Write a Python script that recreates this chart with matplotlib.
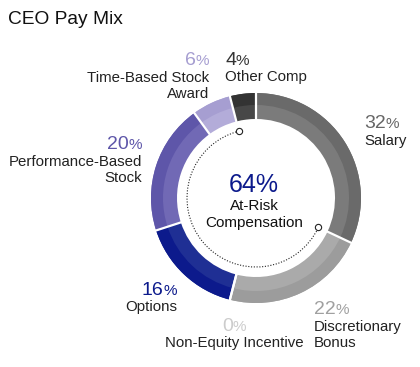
import numpy as np
import matplotlib.pyplot as plt
from matplotlib.patches import Arc

plt.rcParams['font.family'] = ['Liberation Sans', 'DejaVu Sans']

# data, clockwise from 12 o'clock
labels = ['Salary', 'Discretionary\nBonus', 'Non-Equity Incentive', 'Options',
          'Performance-Based\nStock', 'Time-Based Stock\nAward', 'Other Comp']
values = [32, 22, 0, 16, 20, 6, 4]
outer_colors = ['#6a6a6a', '#9c9c9c', '#cccccc', '#0c1a8c', '#5e56a9', '#a69ed1', '#333333']
inner_colors = ['#7b7b7b', '#aaaaaa', '#d6d6d6', '#1f2f94', '#7169b5', '#b3acd9', '#474747']
pct_colors = ['#666666', '#a0a0a0', '#cccccc', '#0c1a8c', '#5e56a9', '#a69ed1', '#333333']
at_risk = ['Discretionary\nBonus', 'Non-Equity Incentive', 'Options',
           'Performance-Based\nStock', 'Time-Based Stock\nAward']
at_risk_total = sum(v for l, v in zip(labels, values) if l in at_risk)

W, H = 420, 367
fig = plt.figure(figsize=(W / 100, H / 100), dpi=100)
ax = fig.add_axes([0, 0, 1, 1])

cx, cy = 256, H - 198
R, split, r_in = 105, 93, 79

# full ring in the lighter tone, outer band in the darker tone on top
ax.pie(values, radius=R, center=(cx, cy), startangle=90, counterclock=False,
       colors=inner_colors, frame=True,
       wedgeprops=dict(width=R - r_in, edgecolor='none', antialiased=True))
ax.pie(values, radius=R, center=(cx, cy), startangle=90, counterclock=False,
       colors=outer_colors, frame=True,
       wedgeprops=dict(width=R - split, edgecolor='none'))

# white gaps between segments
bounds = np.cumsum([0] + values[:-1])
for b in bounds:
    a = np.radians(90 - b * 3.6)
    ax.plot([cx + (r_in - 2) * np.cos(a), cx + (R + 2) * np.cos(a)],
            [cy + (r_in - 2) * np.sin(a), cy + (R + 2) * np.sin(a)],
            color='white', lw=1.6, solid_capstyle='butt')

ax.set_xlim(0, W)
ax.set_ylim(0, H)
ax.set_aspect('equal')
ax.axis('off')

# dotted arc for at-risk compensation
start_pct = values[0]
end_pct = start_pct + at_risk_total
a1 = 90 - end_pct * 3.6
a2 = 90 - start_pct * 3.6
rr = 69
ax.add_patch(Arc((cx, cy), 2 * rr, 2 * rr, theta1=a1, theta2=a2,
                 color='#222222', lw=0.8, ls=(0, (1, 1.5))))
for a in (a1, a2):
    ax.plot(cx + rr * np.cos(np.radians(a)), cy + rr * np.sin(np.radians(a)), 'o',
            ms=4.5, mfc='white', mec='#222222', mew=0.8)

# centre text
ax.text(254, H - 192, f'{at_risk_total}%', ha='center', va='baseline',
        fontsize=18, color='#0c1a8c')
ax.text(254, H - 210, 'At-Risk', ha='center', va='baseline',
        fontsize=11, color='#111111')
ax.text(254, H - 227, 'Compensation', ha='center', va='baseline',
        fontsize=11, color='#111111')

# title
ax.text(8, H - 23.5, 'CEO Pay Mix', ha='left', va='baseline', fontsize=13.8, color='#111111')

# segment labels: x, baseline y of the percentage, alignment
label_pos = [(364, 128, 'left'), (314, 314, 'left'), (234, 331, 'center'),
             (177, 295, 'right'), (142, 149, 'right'), (209, 65, 'right'),
             (225, 65, 'left')]

fig.canvas.draw()
rend = fig.canvas.get_renderer()
for lab, val, col, (x, y, ha) in zip(labels, values, pct_colors, label_pos):
    num = ax.text(0, 0, str(val), fontsize=14, color=col, va='baseline')
    pct = ax.text(0, 0, '%', fontsize=11, color=col, va='baseline')
    wn = num.get_window_extent(rend).width
    wp = pct.get_window_extent(rend).width
    total = wn + wp
    if ha == 'left':
        x0 = x
    elif ha == 'right':
        x0 = x - total
    else:
        x0 = x - total / 2
    num.set_position((x0, H - y))
    pct.set_position((x0 + wn, H - y))
    for i, line in enumerate(lab.split('\n')):
        ax.text(x, H - y - 16.5 * (i + 1), line, ha=ha, va='baseline',
                fontsize=10.8, color='#222222')

fig.savefig('out.png', dpi=100)
